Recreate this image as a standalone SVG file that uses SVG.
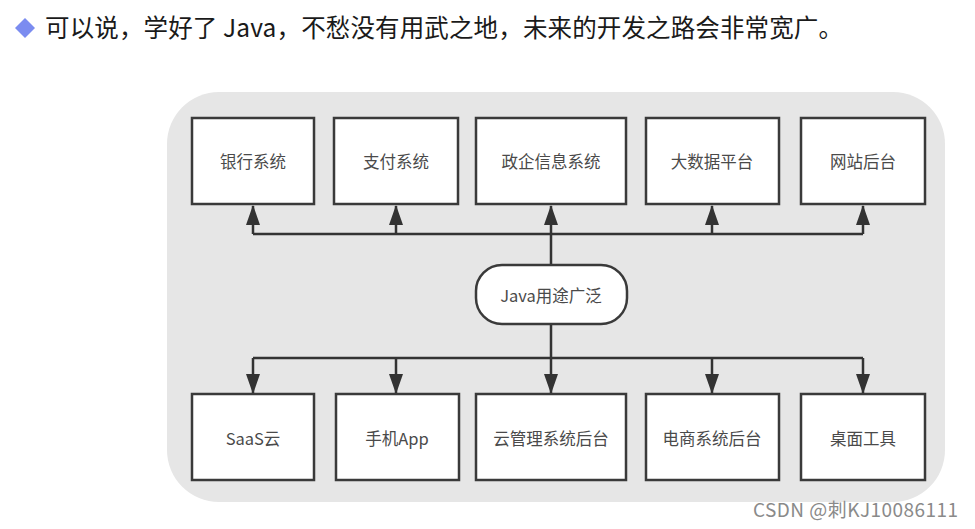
<svg xmlns="http://www.w3.org/2000/svg" width="975" height="529" viewBox="0 0 975 529">
<defs>
<style>
.bx{fill:#fff;stroke:#3a3a3a;stroke-width:2.5}
.t{font-family:"Noto Sans CJK SC","Noto Sans",sans-serif;font-size:16.5px;fill:#4a4a4a;text-anchor:middle;dominant-baseline:central}
.ln{fill:none;stroke:#333;stroke-width:2.5}
</style>
<marker id="ah" markerUnits="userSpaceOnUse" markerWidth="20" markerHeight="16" refX="19" refY="7" orient="auto">
<path d="M0,0 L20,7 L0,14 Z" fill="#333"/>
</marker>
</defs>
<rect width="975" height="529" fill="#fff"/>
<path d="M15,28 L25,18 L35,28 L25,38 Z" fill="#7b8cf0"/>
<text x="45" y="37" font-family="'Noto Sans CJK SC','Noto Sans',sans-serif" font-size="24.5" fill="#1a1a1a" textLength="798" lengthAdjust="spacing">可以说，学好了 Java，不愁没有用武之地，未来的开发之路会非常宽广。</text>
<rect x="167" y="92" width="778" height="410" rx="52" ry="52" fill="#e6e6e6"/>
<g id="connectors">
<path class="ln" d="M551,265 V234 M253,234 H863"/>
<path class="ln" d="M253,234 V206" marker-end="url(#ah)"/>
<path class="ln" d="M396,234 V206" marker-end="url(#ah)"/>
<path class="ln" d="M551,234 V206" marker-end="url(#ah)"/>
<path class="ln" d="M712,234 V206" marker-end="url(#ah)"/>
<path class="ln" d="M863,234 V206" marker-end="url(#ah)"/>
<path class="ln" d="M551,324 V358 M253,358 H863"/>
<path class="ln" d="M253,358 V393" marker-end="url(#ah)"/>
<path class="ln" d="M396,358 V393" marker-end="url(#ah)"/>
<path class="ln" d="M551,358 V393" marker-end="url(#ah)"/>
<path class="ln" d="M712,358 V393" marker-end="url(#ah)"/>
<path class="ln" d="M863,358 V393" marker-end="url(#ah)"/>
</g>
<g id="n1"><rect class="bx" x="192" y="118" width="122" height="86"/><text class="t" x="253" y="161">银行系统</text></g>
<g id="n2"><rect class="bx" x="334" y="118" width="124" height="86"/><text class="t" x="396" y="161">支付系统</text></g>
<g id="n3"><rect class="bx" x="476" y="118" width="150" height="86"/><text class="t" x="551" y="161">政企信息系统</text></g>
<g id="n4"><rect class="bx" x="646" y="118" width="133" height="86"/><text class="t" x="712" y="161">大数据平台</text></g>
<g id="n5"><rect class="bx" x="801" y="118" width="124" height="86"/><text class="t" x="863" y="161">网站后台</text></g>
<g id="center"><rect class="bx" x="476" y="265" width="151" height="59" rx="26" ry="26"/><text class="t" x="551" y="295">Java用途广泛</text></g>
<g id="m1"><rect class="bx" x="192" y="394" width="122" height="86"/><text class="t" x="253" y="438">SaaS云</text></g>
<g id="m2"><rect class="bx" x="336" y="394" width="123" height="86"/><text class="t" x="397" y="438">手机App</text></g>
<g id="m3"><rect class="bx" x="476" y="394" width="150" height="86"/><text class="t" x="551" y="438">云管理系统后台</text></g>
<g id="m4"><rect class="bx" x="646" y="394" width="133" height="86"/><text class="t" x="712" y="438">电商系统后台</text></g>
<g id="m5"><rect class="bx" x="801" y="394" width="124" height="86"/><text class="t" x="863" y="438">桌面工具</text></g>
<text x="753" y="517" font-family="'Noto Sans CJK SC','Noto Sans',sans-serif" font-size="19" fill="#8a8a8a" textLength="205" lengthAdjust="spacing">CSDN @刺KJ10086111</text>
</svg>
